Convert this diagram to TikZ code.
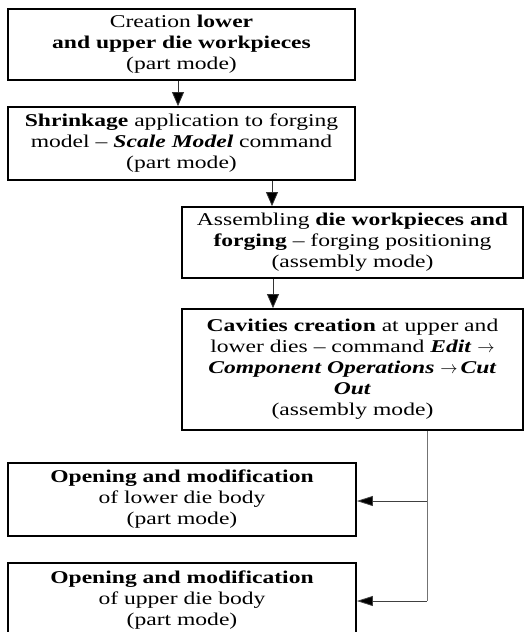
\documentclass[tikz,border=0pt]{standalone}
\usepackage{fontspec}
\setmainfont{Liberation Serif}[FakeStretch=1.31]
\usetikzlibrary{arrows.meta}
\begin{document}
\begin{tikzpicture}[x=1pt,y=1pt,
  stepbox/.style={draw=black, line width=1.8pt, rectangle, align=center, inner sep=0pt,
    font=\fontsize{18}{21}\selectfont},
  arr/.style={line width=0.8pt, draw=black!80, -{Triangle[length=14pt,width=12pt,fill=black]}},
  harr/.style={line width=0.8pt, draw=black!75, -{Triangle[length=16pt,width=10pt,fill=black]}},
  link/.style={line width=0.8pt, draw=black!55}]
\useasboundingbox (0,0) rectangle (525,-632);
\node[stepbox, minimum width=347pt, minimum height=71pt] (b1) at (181.5,-44.5)
  {Creation \textbf{lower}\\ \textbf{and upper die workpieces}\\ (part mode)};
\node[stepbox, minimum width=347pt, minimum height=73pt] (b2) at (181.5,-143.5)
  {\textbf{Shrinkage} application to forging\\ model – \textbf{\textit{Scale Model}} command\\ (part mode)};
\node[stepbox, minimum width=341pt, minimum height=71pt] (b3) at (352.5,-242.5)
  {Assembling \textbf{die workpieces and}\\ \textbf{forging} – forging positioning\\ (assembly mode)};
\node[stepbox, minimum width=341pt, minimum height=121pt] (b4) at (352.5,-369.5)
  {\textbf{Cavities creation} at upper and\\ lower dies – command \textbf{\textit{Edit}}~$\rightarrow$\\ \textbf{\textit{Component Operations}}~$\rightarrow$\,\textbf{\textit{Cut}}\\ \textbf{\textit{Out}}\\ (assembly mode)};
\node[stepbox, minimum width=348pt, minimum height=73pt] (b5) at (182,-499.5)
  {\textbf{Opening and modification}\\ of lower die body\\ (part mode)};
\node[stepbox, minimum width=348pt, minimum height=74pt] (b6) at (182,-600)
  {\textbf{Opening and modification}\\ of upper die body\\ (part mode)};
\coordinate (c1) at (178,0);
\coordinate (c2) at (272,0);
\coordinate (c3) at (273,0);
\coordinate (c4) at (427,0);
\coordinate (j1) at (427,-501);
\coordinate (j2) at (427,-601);
\draw[arr] (b1.south -| c1) -- (b2.north -| c1);
\draw[arr] (b2.south -| c2) -- (b3.north -| c2);
\draw[arr] (b3.south -| c3) -- (b4.north -| c3);
\draw[link] (b4.south -| c4) -- (j2);
\draw[harr] (j1) -- (b5.east |- j1);
\draw[harr] (j2) -- (b6.east |- j2);
\end{tikzpicture}
\end{document}
